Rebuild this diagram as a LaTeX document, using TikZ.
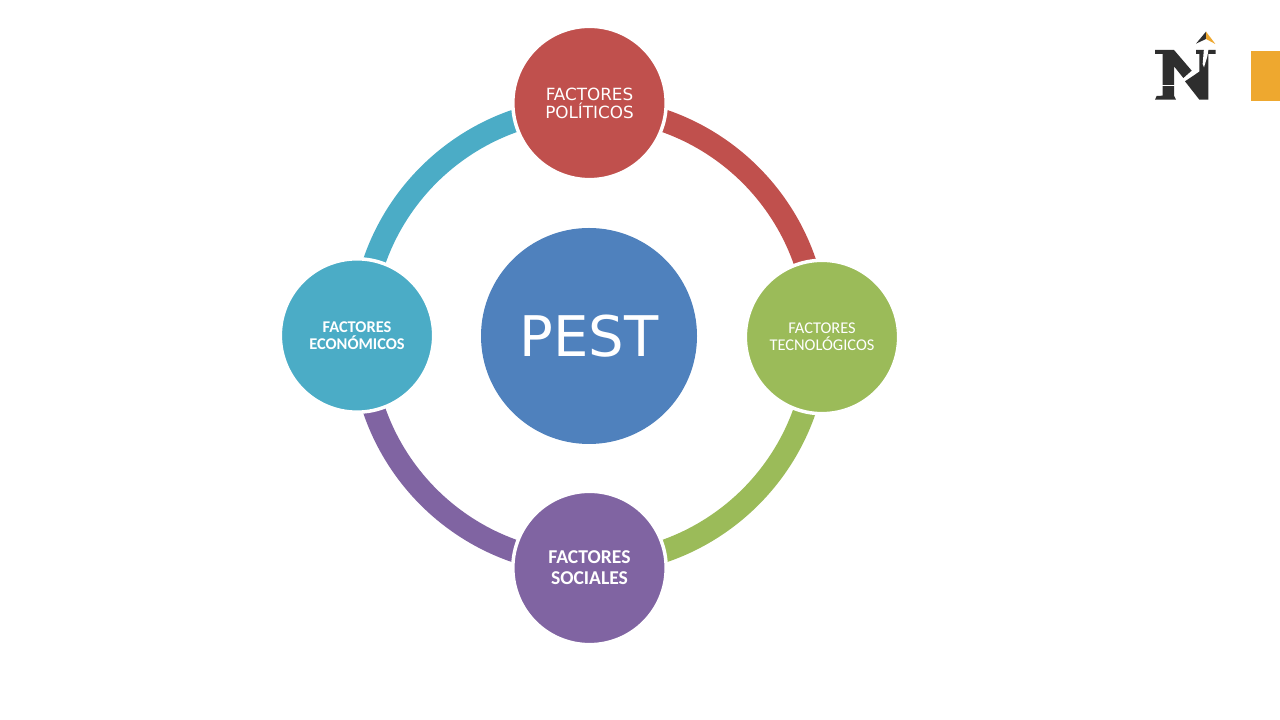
\documentclass[tikz,border=0pt]{standalone}
\usepackage{fontspec}
\setmainfont{Carlito}
\newfontfamily\dejavu{DejaVu Sans}
\definecolor{cred}{HTML}{C0504D}
\definecolor{cgreen}{HTML}{9BBB59}
\definecolor{cpurple}{HTML}{8064A2}
\definecolor{cteal}{HTML}{4BACC6}
\definecolor{cblue}{HTML}{4F81BD}
\definecolor{corange}{HTML}{EEA82F}
\definecolor{cdark}{HTML}{2E2E2E}
\tikzset{
  factor/.style={circle,draw=white,line width=2.6pt,minimum size=115pt,inner sep=0pt,outer sep=0pt,align=center,text=white},
  band/.style={line width=16.9pt,line cap=butt},
}
\begin{document}
\begin{tikzpicture}[x=.75pt,y=.75pt]
\useasboundingbox (0,0) rectangle (1280,720);
\fill[white] (0,0) rectangle (1280,720);
\coordinate (rt) at (589.5,611.7);
\coordinate (rr) at (817.2,384);
\coordinate (rb) at (589.5,156.3);
\coordinate (rl) at (361.8,384);
\draw[band,cred] (rt) arc[start angle=90,end angle=0,radius=227.7];
\draw[band,cgreen] (rr) arc[start angle=0,end angle=-90,radius=227.7];
\draw[band,cpurple] (rb) arc[start angle=-90,end angle=-180,radius=227.7];
\draw[band,cteal] (rl) arc[start angle=180,end angle=90,radius=227.7];
\node[circle,fill=cblue,minimum size=162pt,inner sep=0pt,text=white,font=\dejavu\fontsize{42}{50}\selectfont] (pest) at (589,384) {PEST};
\node[factor,fill=cred,font=\dejavu\fontsize{12.6}{13.5}\selectfont] (pol) at (589.5,617) {FACTORES\\POLÍTICOS};
\node[factor,fill=cgreen,font=\fontsize{12.3}{13}\selectfont] (tec) at (822,383) {FACTORES\\TECNOLÓGICOS};
\node[factor,fill=cpurple,font=\bfseries\fontsize{14.7}{15.75}\selectfont] (soc) at (589.5,152) {FACTORES\\SOCIALES};
\node[factor,fill=cteal,font=\bfseries\fontsize{12.3}{13}\selectfont] (eco) at (357,384.5) {FACTORES\\ECONÓMICOS};
\fill[corange] (1251,619) rectangle (1280,669);
\begin{scope}[shift={(1150,692)},x=.25pt,y=-.25pt]
  \fill[cdark] (15,66) -- (72,66) -- (125,128) -- (100,150) -- (72,115) -- (72,203) -- (78,215) -- (15,215) -- (20,204) -- (38,203) -- (38,78) -- (15,78) -- cycle;
  \fill[cdark] (105,160) -- (148,131) -- (148,78) -- (138,78) -- (138,66) -- (197,66) -- (197,78) -- (175,78) -- (175,215) -- (148,215) -- cycle;
  \fill[white] (162,60) -- (176,60) -- (172,85) -- (162,118) -- (158,108) -- cycle;
  \fill[white] (36,171) rectangle (74,174);
  \fill[cdark] (138,47) -- (168,11) -- (168,33) -- cycle;
  \fill[corange] (168,11) -- (196,48) -- (168,33) -- cycle;
\end{scope}
\end{tikzpicture}
\end{document}
